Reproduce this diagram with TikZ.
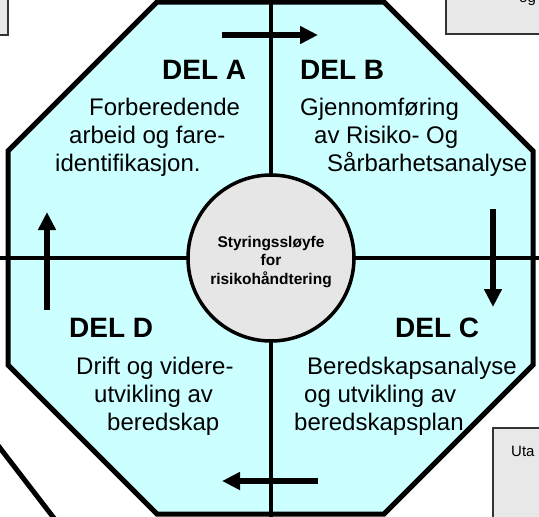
\documentclass[tikz,border=0pt]{standalone}
\usepackage{fontspec}
\setmainfont{Liberation Sans}
\usetikzlibrary{arrows.meta}
\definecolor{octfill}{HTML}{CCFFFF}
\definecolor{circfill}{HTML}{E6E6E6}
\definecolor{boxfill}{HTML}{E8E8E8}
\begin{document}
\begin{tikzpicture}[x=1pt,y=-1pt,
  body/.style={anchor=base west,inner sep=0pt,font=\fontsize{24}{28}\selectfont},
  head/.style={anchor=base west,inner sep=0pt,font=\fontsize{28}{32}\selectfont\bfseries},
  hubtext/.style={anchor=base,inner sep=0pt,font=\fontsize{15.5}{18}\selectfont\bfseries},
  small/.style={anchor=base west,inner sep=0pt,font=\fontsize{15}{17}\selectfont},
  flow/.style={line width=6pt,-{Triangle[length=18pt,width=17pt]}},
  cross/.style={line width=4pt},
  sidebox/.style={fill=boxfill,draw=black!80,line width=1.6pt}]
\useasboundingbox (0,0) rectangle (539,517);
\clip (0,0) rectangle (539,517);
% side boxes (partly visible)
\draw[sidebox] (-10,-10) rectangle (8,35);
\draw[sidebox] (446,-10) rectangle (560,34);
\node[small] (og) at (519,2) {og};
\draw[sidebox] (493,428) rectangle (560,540);
\node[small] (uta) at (511,456) {Uta};
% extra diagonal line bottom left
\coordinate (dl1) at (-10,435);
\coordinate (dl2) at (60,526);
\draw[line width=5pt] (dl1) -- (dl2);
% octagon
\coordinate (o1) at (157,2);
\coordinate (o2) at (384,2);
\coordinate (o3) at (533,151);
\coordinate (o4) at (533,365);
\coordinate (o5) at (384,514);
\coordinate (o6) at (157,514);
\coordinate (o7) at (8,365);
\coordinate (o8) at (8,151);
\fill[octfill] (o1) -- (o2) -- (o3) -- (o4) -- (o5) -- (o6) -- (o7) -- (o8) -- cycle;
% cross lines
\coordinate (vt) at (271,-5);
\coordinate (vb) at (271,522);
\coordinate (hl) at (-5,258);
\coordinate (hr) at (544,258);
\draw[cross] (vt) -- (vb);
\draw[cross] (hl) -- (hr);
\draw[line width=5pt,line join=miter] (o1) -- (o2) -- (o3) -- (o4) -- (o5) -- (o6) -- (o7) -- (o8) -- cycle;
% hub
\node[circle,draw,line width=3.5pt,fill=circfill,minimum size=166pt,inner sep=0pt] (hub) at (271,258) {};
\node[hubtext] (h1) at (271,247) {Styringssløyfe};
\node[hubtext] (h2) at (271,265) {for};
\node[hubtext] (h3) at (271,284) {risikohåndtering};
% arrows
\coordinate (ta) at (222,35);
\coordinate (tb) at (318,35);
\draw[flow] (ta) -- (tb);
\coordinate (ra) at (493,209);
\coordinate (rb) at (493,307);
\draw[flow] (ra) -- (rb);
\coordinate (ba) at (318,481);
\coordinate (bb) at (222,481);
\draw[flow] (ba) -- (bb);
\coordinate (la) at (47,310);
\coordinate (lb) at (47,212);
\draw[flow] (la) -- (lb);
% DEL A
\node[head] (delA) at (162,79) {DEL A};
\node[body] (a1) at (89,115) {Forberedende};
\node[body] (a2) at (69,143) {arbeid og fare-};
\node[body] (a3) at (55,171) {identifikasjon.};
% DEL B
\node[head] (delB) at (300,79) {DEL B};
\node[body] (b1) at (300,115) {Gjennomføring};
\node[body] (b2) at (314,143) {av Risiko- Og};
\node[body] (b3) at (327,171) {Sårbarhetsanalyse};
% DEL D
\node[head] (delD) at (69,337) {DEL D};
\node[body] (d1) at (76,374) {Drift og videre-};
\node[body] (d2) at (94,402) {utvikling av};
\node[body] (d3) at (107,430) {beredskap};
% DEL C
\node[head] (delC) at (395,337) {DEL C};
\node[body] (c1) at (307,374) {Beredskapsanalyse};
\node[body] (c2) at (304,402) {og utvikling av};
\node[body] (c3) at (294,430) {beredskapsplan};
\end{tikzpicture}
\end{document}
